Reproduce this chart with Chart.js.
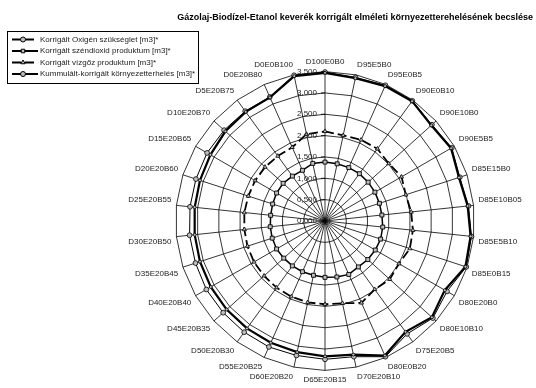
<!DOCTYPE html>
<html>
<head>
<meta charset="utf-8">
<script src="https://cdn.jsdelivr.net/npm/chart.js@4.4.1/dist/chart.umd.min.js"></script>
<style>
  html, body { margin: 0; padding: 0; background: #fff; }
</style>
</head>
<body>
<canvas id="chart-radar" width="536" height="388"></canvas>
<script>
// ============================================================
//  Gázolaj-Biodízel-Etanol keverékek · korrigált környezetterhelés
// ============================================================

const keverekek = [
  'D100E0B0', 'D95E5B0', 'D95E0B5', 'D90E0B10', 'D90E10B0', 'D90E5B5',
  'D85E15B0', 'D85E10B05', 'D85E5B10', 'D85E0B15', 'D80E20B0', 'D80E10B10',
  'D75E20B5', 'D80E0B20', 'D70E20B10', 'D65E20B15', 'D60E20B20', 'D55E20B25',
  'D50E20B30', 'D45E20B35', 'D40E20B40', 'D35E20B45', 'D30E20B50', 'D25E20B55',
  'D20E20B60', 'D15E20B65', 'D10E20B70', 'D5E20B75', 'D0E20B80', 'D0E0B100'
];

const oxigen = [
  3.47, 3.42, 3.46, 3.47, 3.35, 3.41, 3.30, 3.36, 3.43, 3.46,
  3.24, 3.37, 3.21, 3.45, 3.20, 3.17, 3.14, 3.12, 3.11, 3.10,
  3.09, 3.08, 3.07, 3.07, 3.08, 3.10, 3.14, 3.16, 3.17, 3.47
];
const szendioxid = [
  1.38, 1.37, 1.37, 1.37, 1.36, 1.35, 1.34, 1.34, 1.36, 1.37,
  1.36, 1.35, 1.33, 1.37, 1.34, 1.32, 1.30, 1.30, 1.30, 1.30,
  1.31, 1.30, 1.29, 1.28, 1.29, 1.31, 1.32, 1.30, 1.30, 1.38
];
const vizgoz = [
  2.10, 2.05, 2.08, 2.09, 2.01, 2.07, 1.99, 2.03, 2.07, 2.09,
  2.00, 2.04, 1.98, 2.10, 1.97, 1.95, 1.95, 1.94, 1.93, 1.92,
  1.92, 1.91, 1.90, 1.90, 1.89, 1.89, 1.89, 1.88, 1.89, 2.08
];
const kummulalt = [
  3.49, 3.44, 3.48, 3.48, 3.37, 3.43, 3.32, 3.38, 3.45, 3.48,
  3.30, 3.40, 3.27, 3.48, 3.25, 3.24, 3.22, 3.23, 3.22, 3.21,
  3.21, 3.19, 3.19, 3.18, 3.18, 3.19, 3.18, 3.18, 3.18, 3.49
];

const sorozatNevek = [
  'Korrigált Oxigén szükséglet [m3]*',
  'Korrigált széndioxid produktum [m3]*',
  'Korrigált vízgőz produktum [m3]*',
  'Kummulált-korrigált környezetterhelés [m3]*'
];
const skalaErtekek = [0, 0.5, 1, 1.5, 2, 2.5, 3, 3.5];
const cim = 'Gázolaj-Biodízel-Etanol keverék korrigált elméleti környezetterehelésének becslése';

const BETU = '"Liberation Sans", Arial, sans-serif';
const jelmagyarazatMinta = [[9, 4], [], [9, 4], []];

// cím, jelmagyarázat és a tengelyfeliratok kézzel rajzolva
const rajzoloPlugin = {
  id: 'rajzolo',
  afterDraw(chart) {
    const ctx = chart.ctx;
    const r = chart.scales.r;
    ctx.save();

    // cím
    ctx.font = 'bold 9px ' + BETU;
    ctx.fillStyle = '#000';
    ctx.textAlign = 'right';
    ctx.textBaseline = 'middle';
    ctx.fillText(cim, 533, 18);

    // tengely feliratai
    ctx.font = '8px ' + BETU;
    ctx.fillStyle = '#222';
    ctx.strokeStyle = '#000';
    ctx.lineWidth = 0.8;
    skalaErtekek.forEach(v => {
      const y = r.yCenter - r.getDistanceFromCenterForValue(v);
      ctx.fillText(v.toFixed(3).replace('.', ','), r.xCenter - 8, y);
      ctx.beginPath();
      ctx.moveTo(r.xCenter - 4, y);
      ctx.lineTo(r.xCenter, y);
      ctx.stroke();
    });

    // jelmagyarázat
    ctx.fillStyle = '#fff';
    ctx.fillRect(7.5, 31.5, 191, 52);
    ctx.strokeStyle = '#000';
    ctx.lineWidth = 1;
    ctx.strokeRect(7.5, 31.5, 191, 52);
    ctx.textAlign = 'left';
    chart.data.datasets.forEach((ds, i) => {
      const y = 39.5 + i * 11.5;
      ctx.save();
      ctx.strokeStyle = '#000';
      ctx.lineWidth = 2;
      ctx.setLineDash(jelmagyarazatMinta[i]);
      ctx.beginPath();
      ctx.moveTo(12, y);
      ctx.lineTo(38, y);
      ctx.stroke();
      ctx.restore();
      ctx.fillStyle = ds.pointBackgroundColor;
      ctx.strokeStyle = '#000';
      ctx.lineWidth = 1;
      Chart.helpers.drawPoint(ctx, {
        pointStyle: ds.pointStyle,
        radius: 2.5,
        rotation: 0,
        borderWidth: 1
      }, 23, y);
      ctx.fillStyle = '#222';
      ctx.fillText(ds.label, 40, y);
    });
    ctx.restore();
  }
};

const canvas = document.getElementById('chart-radar');
window._chartRadar = new Chart(canvas, {
  type: 'radar',
  data: {
    labels: keverekek,
    datasets: [
      {
        label: sorozatNevek[0],
        data: oxigen,
        borderColor: '#000',
        borderWidth: 2.2,
        pointStyle: 'circle',
        pointRadius: 1.5,
        pointBackgroundColor: '#bdbdbd',
        pointBorderColor: '#000',
        pointBorderWidth: 0.8,
        fill: false
      },
      {
        label: sorozatNevek[1],
        data: szendioxid,
        borderColor: '#000',
        borderWidth: 1.5,
        pointStyle: 'rect',
        pointRadius: 2.8,
        pointBackgroundColor: '#bdbdbd',
        pointBorderColor: '#000',
        pointBorderWidth: 0.9,
        fill: false
      },
      {
        label: sorozatNevek[2],
        data: vizgoz,
        borderColor: '#000',
        borderWidth: 1.8,
        borderDash: [9, 4],
        pointStyle: 'triangle',
        pointRadius: 2.4,
        pointBackgroundColor: '#bdbdbd',
        pointBorderColor: '#000',
        pointBorderWidth: 0.8,
        fill: false
      },
      {
        label: sorozatNevek[3],
        data: kummulalt,
        borderColor: '#000',
        borderWidth: 1,
        pointStyle: 'circle',
        pointRadius: 2.4,
        pointBackgroundColor: '#bdbdbd',
        pointBorderColor: '#000',
        pointBorderWidth: 0.8,
        fill: false
      }
    ]
  },
  options: {
    responsive: false,
    animation: false,
    devicePixelRatio: 1,
    layout: { padding: { left: 114, right: 0, top: 57, bottom: 2 } },
    elements: { line: { tension: 0 } },
    scales: {
      r: {
        min: 0,
        max: 3.5,
        ticks: { stepSize: 0.5, display: false },
        grid: { color: '#000', lineWidth: 0.8, circular: false },
        angleLines: { color: '#000', lineWidth: 0.8 },
        pointLabels: {
          color: '#222',
          padding: 5,
          font: { family: BETU, size: 8 }
        }
      }
    },
    plugins: {
      legend: { display: false },
      tooltip: { enabled: false }
    }
  },
  plugins: [rajzoloPlugin]
});
</script>
</body>
</html>
